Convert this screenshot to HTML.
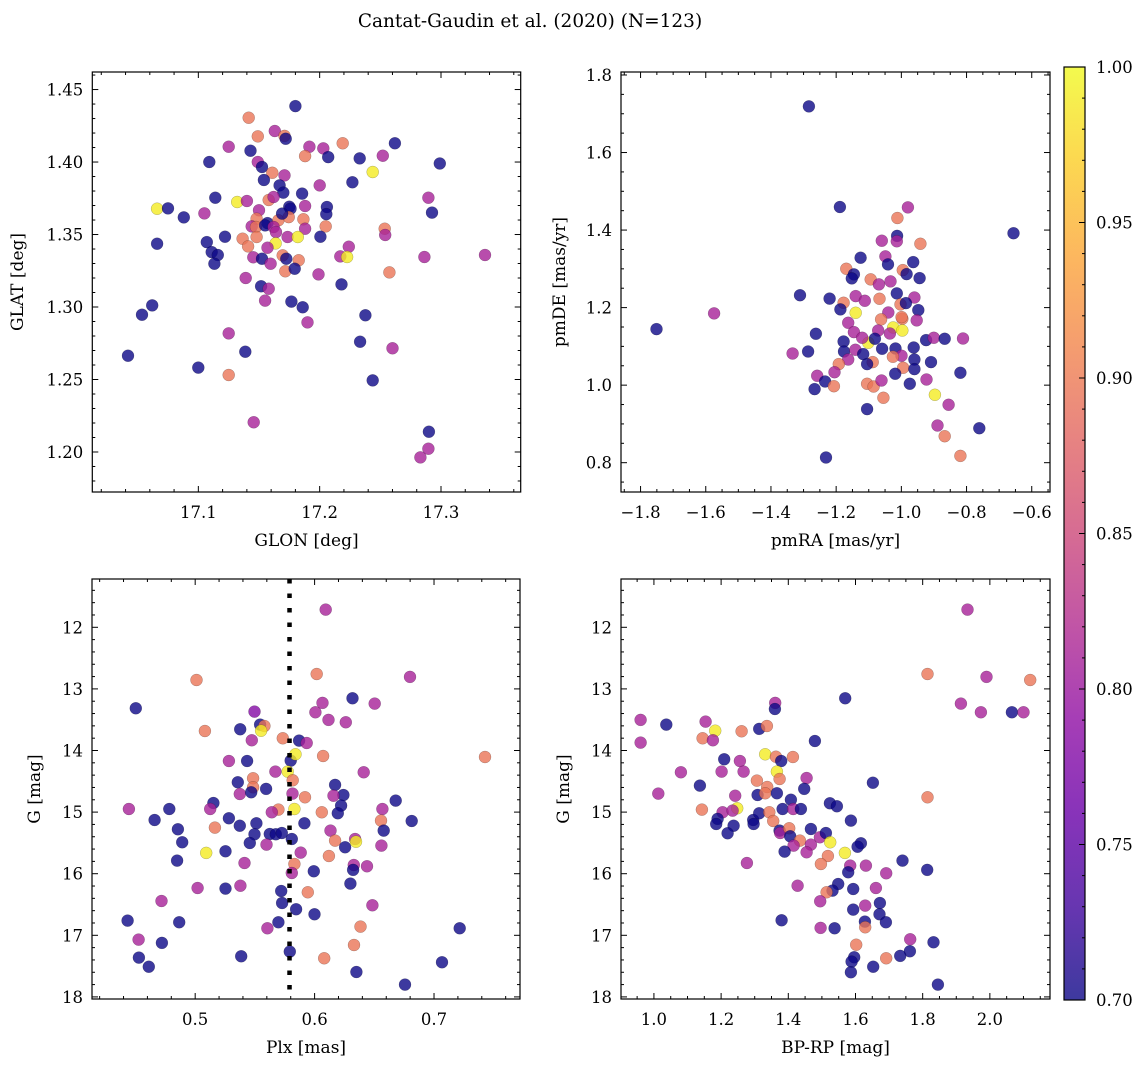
<!DOCTYPE html>
<html><head><meta charset="utf-8">
<style>
html,body{margin:0;padding:0;background:#fff;}
svg{display:block;font-family:"DejaVu Serif","Liberation Serif",serif;}
</style></head>
<body>
<svg id="fig" width="1148" height="1067" viewBox="0 0 1148 1067" xmlns="http://www.w3.org/2000/svg">
<defs>
<linearGradient id="plasma" x1="0" y1="1" x2="0" y2="0">
<stop offset="0" stop-color="#0d0887"/><stop offset="0.1" stop-color="#41049d"/><stop offset="0.2" stop-color="#6a00a8"/><stop offset="0.3" stop-color="#8f0da4"/><stop offset="0.4" stop-color="#b12a90"/><stop offset="0.5" stop-color="#cc4778"/><stop offset="0.6" stop-color="#e16462"/><stop offset="0.7" stop-color="#f2844b"/><stop offset="0.8" stop-color="#fca636"/><stop offset="0.9" stop-color="#fcce25"/><stop offset="1" stop-color="#f0f921"/>
</linearGradient>
</defs>
<text x="530" y="27" font-size="18.5" text-anchor="middle">Cantat-Gaudin et al. (2020) (N=123)</text>
</svg>
<script>
// ---------- Panel 1: GLON vs GLAT ----------
const p1Glon=[17.180,17.1415,17.163,17.171,17.172,17.149,17.125,17.143,17.1915,17.203,17.207,17.219,17.188,17.233,17.252,17.262,17.299,17.109,17.149,17.1525,17.161,17.171,17.154,17.167,17.170,17.1855,17.200,17.227,17.2437,17.114,17.132,17.140,17.158,17.162,17.066,17.075,17.088,17.105,17.150,17.175,17.176,17.188,17.206,17.2055,17.2896,17.2926,17.148,17.157,17.166,17.1745,17.1866,17.169,17.144,17.1475,17.155,17.162,17.188,17.205,17.2536,17.254,17.122,17.1365,17.148,17.164,17.1736,17.182,17.2006,17.107,17.1637,17.141,17.157,17.111,17.116,17.066,17.1453,17.1525,17.1695,17.1725,17.1132,17.1596,17.1827,17.1717,17.1794,17.217,17.224,17.2226,17.199,17.2575,17.2863,17.3363,17.139,17.1517,17.158,17.155,17.1767,17.186,17.190,17.218,17.2377,17.2333,17.26,17.2437,17.062,17.0536,17.042,17.125,17.1387,17.100,17.125,17.1456,17.29,17.2896,17.283];
const p1Glat=[1.4386,1.4306,1.4214,1.418,1.416,1.4177,1.4106,1.4078,1.4106,1.4094,1.4034,1.4129,1.4041,1.4025,1.4044,1.4129,1.399,1.400,1.400,1.3966,1.3926,1.3908,1.3876,1.3839,1.3789,1.3782,1.3839,1.386,1.3931,1.3754,1.3724,1.3731,1.3738,1.3759,1.3678,1.368,1.3618,1.3646,1.3667,1.3692,1.3678,1.3697,1.369,1.3641,1.3754,1.3651,1.3609,1.3579,1.3598,1.362,1.3605,1.3644,1.3556,1.3552,1.3563,1.3552,1.354,1.3556,1.354,1.3497,1.3485,1.3471,1.3483,1.3517,1.3483,1.3483,1.3485,1.3448,1.3439,1.3418,1.3409,1.3379,1.3359,1.3437,1.3343,1.3333,1.3356,1.3333,1.3299,1.3299,1.3322,1.3246,1.3264,1.3349,1.3416,1.3345,1.3225,1.3239,1.3345,1.3359,1.32,1.3143,1.3126,1.3044,1.3037,1.2998,1.2894,1.3156,1.2943,1.2761,1.2715,1.2494,1.3011,1.2947,1.2664,1.2818,1.2692,1.2582,1.2531,1.2205,1.214,1.2023,1.1963];
const p1Prob=[0.70,0.895,0.81,0.895,0.70,0.895,0.81,0.70,0.81,0.81,0.70,0.895,0.895,0.70,0.81,0.70,0.70,0.70,0.81,0.70,0.895,0.81,0.70,0.70,0.70,0.70,0.81,0.70,0.99,0.70,0.99,0.81,0.895,0.81,0.99,0.70,0.70,0.81,0.81,0.70,0.70,0.81,0.70,0.70,0.81,0.70,0.895,0.70,0.895,0.895,0.895,0.70,0.81,0.895,0.70,0.81,0.81,0.895,0.895,0.81,0.70,0.895,0.895,0.81,0.81,0.99,0.70,0.70,0.99,0.895,0.81,0.70,0.70,0.70,0.81,0.70,0.895,0.70,0.70,0.81,0.895,0.895,0.70,0.81,0.81,0.99,0.81,0.895,0.81,0.81,0.81,0.70,0.81,0.81,0.70,0.70,0.81,0.70,0.70,0.70,0.81,0.70,0.70,0.70,0.70,0.81,0.70,0.70,0.895,0.81,0.70,0.81,0.81];
const p1XTicks=[17.1,17.2,17.3];
const p1XTickLabels=["17.1","17.2","17.3"];
const p1YTicks=[1.20,1.25,1.30,1.35,1.40,1.45];
const p1YTickLabels=["1.20","1.25","1.30","1.35","1.40","1.45"];

// ---------- Panel 2: pmRA vs pmDE ----------
const p2PmRA=[-1.2835,-1.1886,-0.980,-1.012,-0.656,-1.013,-1.060,-1.014,-0.9416,-1.125,-1.049,-1.041,-0.9636,-1.169,-0.9955,-0.984,-0.944,-1.1456,-1.152,-1.094,-1.069,-1.0334,-1.311,-1.22,-1.014,-1.14,-1.112,-1.067,-0.96,-1.177,-1.0025,-1.187,-1.14,-1.040,-0.986,-0.948,-0.953,-0.997,-1.062,-1.163,-1.5745,-1.751,-1.025,-0.997,-1.071,-1.1456,-1.035,-1.262,-1.1015,-1.081,-1.120,-0.924,-0.9006,-0.867,-0.811,-1.177,-1.176,-1.286,-1.3335,-1.141,-1.117,-1.059,-1.018,-0.962,-0.9995,-1.026,-1.088,-1.105,-1.163,-0.960,-0.909,-1.192,-0.9945,-0.96,-1.019,-1.205,-1.258,-1.234,-1.266,-1.207,-1.105,-1.085,-1.061,-0.974,-0.923,-1.055,-0.897,-0.855,-0.819,-1.105,-0.889,-0.867,-0.761,-0.819,-1.231,-0.9993];
const p2PmDE=[1.719,1.4594,1.4585,1.431,1.392,1.385,1.3725,1.371,1.3647,1.3286,1.332,1.3114,1.3174,1.3,1.2968,1.2865,1.2761,1.2856,1.2753,1.2727,1.2598,1.2675,1.232,1.2232,1.2366,1.2297,1.2176,1.2228,1.2262,1.2125,1.2082,1.1953,1.1867,1.1875,1.2116,1.1935,1.1669,1.1712,1.1695,1.1608,1.185,1.1445,1.1488,1.141,1.141,1.1368,1.1333,1.1325,1.1092,1.1196,1.1222,1.1162,1.1222,1.1196,1.1204,1.1127,1.0869,1.0869,1.0817,1.0912,1.08,1.0938,1.0946,1.0972,1.0757,1.0731,1.0594,1.0542,1.0662,1.0662,1.0594,1.0542,1.0447,1.0413,1.0293,1.0335,1.024,1.0095,0.9897,0.9974,1.0034,0.9966,1.0120,1.0034,1.0146,0.9673,0.975,0.9493,1.0318,0.9381,0.8959,0.8684,0.889,0.8176,0.8133,1.1755];
const p2Prob=[0.70,0.70,0.81,0.895,0.70,0.70,0.81,0.81,0.895,0.70,0.81,0.70,0.70,0.895,0.895,0.70,0.70,0.70,0.70,0.895,0.81,0.81,0.70,0.70,0.70,0.81,0.81,0.895,0.81,0.895,0.895,0.70,0.99,0.81,0.70,0.70,0.81,0.895,0.895,0.81,0.81,0.70,0.99,0.99,0.81,0.81,0.81,0.70,0.99,0.70,0.81,0.70,0.81,0.70,0.81,0.70,0.70,0.70,0.81,0.81,0.70,0.70,0.70,0.70,0.81,0.895,0.895,0.70,0.81,0.70,0.70,0.895,0.895,0.70,0.70,0.81,0.81,0.70,0.70,0.895,0.895,0.895,0.81,0.70,0.81,0.895,0.99,0.81,0.70,0.70,0.81,0.895,0.70,0.895,0.70,0.895];
const p2XTicks=[-1.8,-1.6,-1.4,-1.2,-1.0,-0.8,-0.6];
const p2XTickLabels=["\u22121.8","\u22121.6","\u22121.4","\u22121.2","\u22121.0","\u22120.8","\u22120.6"];
const p2YTicks=[0.8,1.0,1.2,1.4,1.6,1.8];
const p2YTickLabels=["0.8","1.0","1.2","1.4","1.6","1.8"];

// ---------- Panel 3: Plx vs G ----------
const p3Plx=[0.6093,0.5011,0.6018,0.6799,0.6317,0.6503,0.6066,0.6007,0.4503,0.5497,0.6116,0.6261,0.5081,0.5377,0.5544,0.558,0.5552,0.5474,0.5734,0.587,0.5934,0.58,0.584,0.6071,0.7427,0.5282,0.5435,0.5672,0.5775,0.5817,0.6411,0.5357,0.5485,0.5485,0.5594,0.5374,0.5469,0.5815,0.592,0.6172,0.6241,0.6158,0.6222,0.6194,0.6679,0.5153,0.5126,0.4445,0.4783,0.466,0.5697,0.5642,0.5831,0.606,0.6568,0.6556,0.6579,0.6813,0.4855,0.4891,0.4849,0.5165,0.5282,0.5374,0.5513,0.5497,0.5457,0.5625,0.5675,0.5725,0.5597,0.5809,0.5915,0.6133,0.6172,0.6339,0.6347,0.6255,0.6559,0.612,0.5884,0.5092,0.5254,0.5413,0.5831,0.5809,0.5993,0.6328,0.6322,0.6439,0.63,0.502,0.5254,0.5379,0.572,0.5943,0.5728,0.5845,0.5999,0.6484,0.4718,0.4434,0.4866,0.5697,0.5605,0.6384,0.7215,0.4526,0.4721,0.4529,0.4612,0.5385,0.5792,0.633,0.608,0.7067,0.635,0.6757];
const p3G=[11.713,12.855,12.758,12.806,13.153,13.239,13.228,13.38,13.315,13.369,13.504,13.542,13.683,13.656,13.58,13.602,13.678,13.834,13.802,13.84,13.878,14.164,14.062,14.089,14.105,14.17,14.17,14.343,14.343,14.484,14.354,14.516,14.451,14.597,14.624,14.706,14.679,14.70,14.76,14.559,14.722,14.733,14.895,15.019,14.814,14.852,14.949,14.949,14.949,15.128,14.96,15.003,14.949,15.003,14.949,15.138,15.301,15.144,15.279,15.49,15.788,15.252,15.101,15.22,15.182,15.36,15.501,15.355,15.36,15.339,15.528,15.436,15.182,15.301,15.463,15.436,15.48,15.571,15.544,15.712,15.658,15.663,15.636,15.826,15.842,15.988,15.961,15.858,15.939,15.88,16.161,16.232,16.242,16.194,16.28,16.302,16.475,16.578,16.659,16.513,16.443,16.762,16.789,16.789,16.886,16.859,16.886,17.07,17.124,17.362,17.509,17.341,17.265,17.157,17.373,17.438,17.595,17.801];
const p3Prob=[0.81,0.895,0.895,0.81,0.70,0.81,0.81,0.81,0.70,0.78,0.81,0.81,0.895,0.70,0.70,0.895,0.99,0.81,0.895,0.70,0.81,0.70,0.99,0.895,0.895,0.81,0.70,0.81,0.99,0.895,0.81,0.70,0.895,0.895,0.70,0.81,0.70,0.81,0.895,0.70,0.70,0.81,0.70,0.70,0.70,0.70,0.81,0.81,0.70,0.70,0.895,0.81,0.99,0.895,0.81,0.895,0.70,0.70,0.70,0.70,0.70,0.895,0.70,0.70,0.70,0.70,0.70,0.70,0.70,0.70,0.81,0.70,0.70,0.81,0.895,0.81,0.99,0.70,0.81,0.895,0.81,0.99,0.70,0.81,0.895,0.81,0.70,0.81,0.70,0.81,0.70,0.81,0.70,0.81,0.70,0.895,0.70,0.70,0.70,0.81,0.81,0.70,0.70,0.70,0.81,0.895,0.70,0.81,0.70,0.70,0.70,0.70,0.70,0.895,0.895,0.70,0.70,0.70];
const p3XTicks=[0.5,0.6,0.7];
const p3XTickLabels=["0.5","0.6","0.7"];
const gTicks=[12,13,14,15,16,17,18];
const gTickLabels=["12","13","14","15","16","17","18"];
const plxMean=[0.579];

// ---------- Panel 4: BP-RP vs G ----------
const p4BpRp=[1.9335,1.8145,1.990,2.12,1.5694,1.9137,1.3611,1.3601,1.9732,2.0655,2.1002,0.9603,1.0367,1.1538,1.1825,1.2609,1.3135,1.3363,1.1448,1.1756,1.4792,0.9603,1.3313,1.3631,1.379,1.4137,1.2093,1.256,1.0804,1.2014,1.2669,1.3661,1.374,1.3065,1.4544,1.6518,1.1369,1.4474,1.3373,1.0129,1.242,1.3085,1.3313,1.3661,1.4077,1.5238,1.5446,1.8145,1.1429,1.2480,1.2044,1.2341,1.3829,1.4147,1.4375,1.5863,1.1895,1.1855,1.2371,1.2956,1.2966,1.3135,1.3433,1.3552,1.2192,1.374,1.376,1.4028,1.4058,1.4673,1.4345,1.4157,1.4673,1.3889,1.4544,1.494,1.5119,1.5248,1.616,1.6062,1.5685,1.5179,1.497,1.2768,1.5843,1.631,1.5784,1.6915,1.740,1.8135,1.5486,1.4276,1.5317,1.5139,1.5933,1.6607,1.495,1.6726,1.629,1.5933,1.6716,1.6905,1.628,1.629,1.38,1.496,1.5377,1.7629,1.8323,1.6022,1.7619,1.7331,1.6915,1.5962,1.5883,1.6528,1.5863,1.8452];
const p4G=[11.713,12.758,12.806,12.855,13.153,13.239,13.228,13.326,13.38,13.38,13.38,13.504,13.58,13.531,13.678,13.688,13.65,13.602,13.802,13.834,13.845,13.872,14.062,14.10,14.17,14.105,14.143,14.17,14.354,14.343,14.343,14.343,14.462,14.489,14.446,14.522,14.57,14.624,14.592,14.7,14.733,14.722,14.695,14.695,14.798,14.857,14.906,14.76,14.96,14.938,15.003,14.976,14.949,14.949,14.949,15.138,15.111,15.193,15.22,15.128,15.193,15.019,15.003,15.144,15.344,15.301,15.339,15.263,15.393,15.274,15.463,15.544,15.528,15.642,15.652,15.409,15.339,15.49,15.506,15.561,15.663,15.712,15.842,15.826,15.869,15.869,15.977,15.993,15.788,15.939,16.167,16.194,16.275,16.302,16.248,16.232,16.448,16.475,16.518,16.583,16.659,16.789,16.778,16.87,16.756,16.88,16.886,17.065,17.114,17.152,17.26,17.335,17.373,17.357,17.427,17.509,17.60,17.801];
const p4Prob=[0.81,0.895,0.81,0.895,0.70,0.81,0.81,0.70,0.81,0.70,0.81,0.81,0.70,0.81,0.99,0.895,0.70,0.895,0.895,0.81,0.70,0.81,0.99,0.895,0.70,0.895,0.70,0.81,0.81,0.81,0.81,0.99,0.895,0.895,0.81,0.70,0.70,0.70,0.895,0.81,0.81,0.70,0.895,0.70,0.70,0.70,0.70,0.895,0.895,0.99,0.81,0.81,0.70,0.81,0.70,0.70,0.70,0.70,0.70,0.70,0.70,0.70,0.895,0.895,0.70,0.70,0.81,0.895,0.70,0.70,0.895,0.81,0.81,0.70,0.81,0.81,0.70,0.99,0.70,0.70,0.99,0.895,0.895,0.81,0.81,0.81,0.70,0.81,0.70,0.70,0.70,0.81,0.70,0.895,0.70,0.81,0.81,0.70,0.81,0.70,0.70,0.70,0.70,0.895,0.70,0.81,0.70,0.81,0.70,0.895,0.70,0.70,0.895,0.70,0.70,0.70,0.70,0.70];
const p4XTicks=[1.0,1.2,1.4,1.6,1.8,2.0];
const p4XTickLabels=["1.0","1.2","1.4","1.6","1.8","2.0"];

// ---------- Colorbar ----------
const cbTicks=[0.70,0.75,0.80,0.85,0.90,0.95,1.00];
const cbTickLabels=["0.70","0.75","0.80","0.85","0.90","0.95","1.00"];
const cbMin=0.70, cbMax=1.00;

const NS="http://www.w3.org/2000/svg";
const svg=document.getElementById('fig');
function mk(tag,attrs,parent){const e=document.createElementNS(NS,tag);for(const k in attrs)e.setAttribute(k,attrs[k]);(parent||svg).appendChild(e);return e;}

const stops=[[13,8,135],[65,4,157],[106,0,168],[143,13,164],[177,42,144],[204,71,120],[225,100,98],[242,132,75],[252,166,54],[252,206,37],[240,249,33]];
function plasma(v){let t=(v-cbMin)/(cbMax-cbMin);t=Math.max(0,Math.min(1,t));const f=t*10;const i=Math.min(9,Math.floor(f));const r=f-i;const a=stops[i],b=stops[i+1];
return `rgb(${Math.round(a[0]+(b[0]-a[0])*r)},${Math.round(a[1]+(b[1]-a[1])*r)},${Math.round(a[2]+(b[2]-a[2])*r)})`;}

function panel(cfg){
  const g=mk('g',{});
  
  
  const sx=v=>cfg.L+(v-cfg.xd[0])/(cfg.xd[1]-cfg.xd[0])*(cfg.R-cfg.L);
  const sy=cfg.invert? v=>cfg.T+(v-cfg.yd[0])/(cfg.yd[1]-cfg.yd[0])*(cfg.B-cfg.T)
                     : v=>cfg.B-(v-cfg.yd[0])/(cfg.yd[1]-cfg.yd[0])*(cfg.B-cfg.T);
  const pts=mk('g',{},g);
  
  
  for(let i=0;i<cfg.x.length;i++){
    const c=mk('circle',{cx:sx(cfg.x[i]).toFixed(1),cy:sy(cfg.y[i]).toFixed(1),r:6,fill:plasma(cfg.c[i]),'fill-opacity':0.8,stroke:'rgba(0,0,0,0.3)','stroke-width':0.5},pts);
    
    
  }
  if(cfg.vline){
    const l=mk('line',{x1:sx(cfg.vline[0]),x2:sx(cfg.vline[0]),y1:cfg.T,y2:cfg.B,stroke:'#000','stroke-width':4.5,'stroke-dasharray':'4.5 10'},g);
    
    
  }
  const tk=mk('g',{stroke:'#000','stroke-width':1},g);
  
  
  const xmin=Math.min(...cfg.xd),xmax=Math.max(...cfg.xd),ymin=Math.min(...cfg.yd),ymax=Math.max(...cfg.yd);
  const n0=Math.ceil(xmin/cfg.xminor-1e-6),n1=Math.floor(xmax/cfg.xminor+1e-6);
  for(let n=n0;n<=n1;n++){const v=n*cfg.xminor;const X=sx(v);
    const major=cfg.xt.some(t=>Math.abs(t-v)<1e-6);const len=major?6:3;
    mk('line',{x1:X,x2:X,y1:cfg.B,y2:cfg.B-len},tk);mk('line',{x1:X,x2:X,y1:cfg.T,y2:cfg.T+len},tk);}
  const m0=Math.ceil(ymin/cfg.yminor-1e-6),m1=Math.floor(ymax/cfg.yminor+1e-6);
  for(let n=m0;n<=m1;n++){const v=n*cfg.yminor;const Y=sy(v);
    const major=cfg.yt.some(t=>Math.abs(t-v)<1e-6);const len=major?6:3;
    mk('line',{x1:cfg.L,x2:cfg.L+len,y1:Y,y2:Y},tk);mk('line',{x1:cfg.R,x2:cfg.R-len,y1:Y,y2:Y},tk);}
  const fr=mk('rect',{x:cfg.L,y:cfg.T,width:cfg.R-cfg.L,height:cfg.B-cfg.T,fill:'none',stroke:'#000','stroke-width':1.2},g);
  
  
  cfg.xt.forEach((t,i)=>{const e=mk('text',{x:sx(t),y:cfg.B+26,'font-size':16.5,'text-anchor':'middle'},g);e.textContent=cfg.xtl[i];
    
    });
  cfg.yt.forEach((t,i)=>{const e=mk('text',{x:cfg.L-9,y:sy(t)+6,'font-size':16.5,'text-anchor':'end'},g);e.textContent=cfg.ytl[i];
    
    });
  const xl=mk('text',{x:(cfg.L+cfg.R)/2,y:cfg.B+54,'font-size':17,'text-anchor':'middle'},g);xl.textContent=cfg.xlabel;
  
  
  const yc=(cfg.T+cfg.B)/2;
  const yl=mk('text',{x:cfg.ylx,y:yc,'font-size':17,'text-anchor':'middle',transform:`rotate(-90 ${cfg.ylx} ${yc})`},g);yl.textContent=cfg.ylabel;
  
  
}

panel({name:'glon-glat-panel',L:92.3,R:520.7,T:72,B:492,xd:[17.0126,17.3657],yd:[1.1724,1.4621],x:p1Glon,y:p1Glat,c:p1Prob,xt:p1XTicks,xtl:p1XTickLabels,yt:p1YTicks,ytl:p1YTickLabels,xminor:0.02,yminor:0.01,xlabel:'GLON [deg]',ylabel:'GLAT [deg]',ylx:23});
panel({name:'proper-motion-panel',L:621,R:1050,T:72,B:492,xd:[-1.860,-0.544],yd:[0.7244,1.8077],x:p2PmRA,y:p2PmDE,c:p2Prob,xt:p2XTicks,xtl:p2XTickLabels,yt:p2YTicks,ytl:p2YTickLabels,xminor:0.05,yminor:0.05,xlabel:'pmRA [mas/yr]',ylabel:'pmDE [mas/yr]',ylx:565});
panel({name:'parallax-mag-panel',L:92,R:520,T:579,B:999,xd:[0.4136,0.772],yd:[11.216,18.034],invert:true,x:p3Plx,y:p3G,c:p3Prob,xt:p3XTicks,xtl:p3XTickLabels,yt:gTicks,ytl:gTickLabels,xminor:0.02,yminor:0.2,xlabel:'Plx [mas]',ylabel:'G [mag]',ylx:40,vline:plxMean});
panel({name:'color-mag-panel',L:621,R:1050,T:579,B:999,xd:[0.902,2.179],yd:[11.216,18.034],invert:true,x:p4BpRp,y:p4G,c:p4Prob,xt:p4XTicks,xtl:p4XTickLabels,yt:gTicks,ytl:gTickLabels,xminor:0.05,yminor:0.2,xlabel:'BP-RP [mag]',ylabel:'G [mag]',ylx:569});

(function(){
  const L=1064,R=1085,T=67,B=1000;
  const g=mk('g',{});
  
  
  mk('rect',{x:L,y:T,width:R-L,height:B-T,fill:'url(#plasma)','fill-opacity':0.8},g);
  const sy=v=>B-(v-cbMin)/(cbMax-cbMin)*(B-T);
  for(let n=70;n<=100;n++){const v=n/100;const Y=sy(v);const major=n%5===0;
    mk('line',{x1:R,x2:R-(major?6:3),y1:Y,y2:Y,stroke:'#000','stroke-width':1},g);}
  mk('rect',{x:L,y:T,width:R-L,height:B-T,fill:'none',stroke:'#000','stroke-width':1.2},g);
  cbTicks.forEach((t,i)=>{const e=mk('text',{x:R+11,y:sy(t)+6,'font-size':16.5},g);e.textContent=cbTickLabels[i];
    
    });
})();
</script>
</body></html>
